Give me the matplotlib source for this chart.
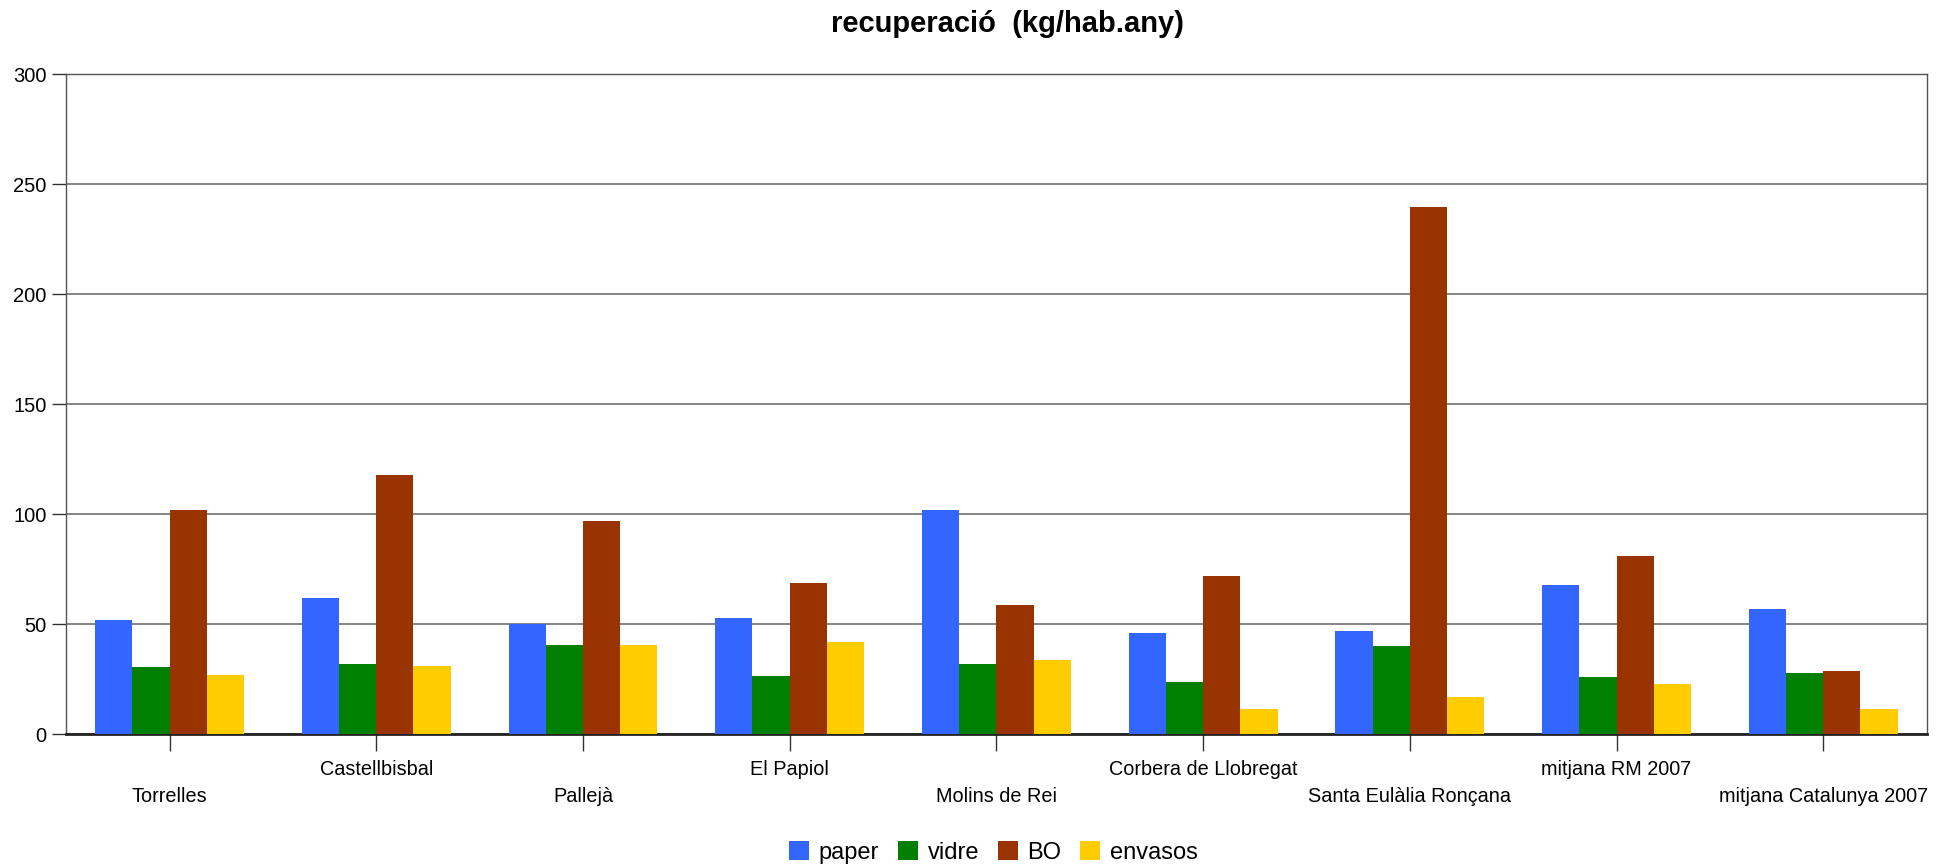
import numpy as np
import matplotlib.pyplot as plt

# --- dades ---
municipis = ["Torrelles", "Castellbisbal", "Pallejà", "El Papiol", "Molins de Rei",
             "Corbera de Llobregat", "Santa Eulàlia Ronçana", "mitjana RM 2007",
             "mitjana Catalunya 2007"]
paper = [52, 62, 50, 53, 102, 46, 47, 68, 57]
vidre = [30.5, 32, 40.5, 26.5, 32, 24, 40, 26, 28]
bo = [102, 118, 97, 69, 59, 72, 239.5, 81, 29]
envasos = [27, 31, 40.5, 42, 34, 11.5, 17, 23, 11.5]

series = [("paper", paper, "#3366FF"),
          ("vidre", vidre, "#007F00"),
          ("BO", bo, "#993300"),
          ("envasos", envasos, "#FFCC00")]

plt.rcParams['font.family'] = ['Liberation Sans', 'DejaVu Sans']

fig = plt.figure(figsize=(19.48, 8.65), dpi=100)
ax = fig.add_axes([0.034, 0.151, 0.955, 0.763])

x = np.arange(len(municipis))
w = 0.18
for i, (nom, vals, col) in enumerate(series):
    ax.bar(x + (i - 1.5) * w, vals, width=w, color=col, label=nom, zorder=3)

ax.set_xlim(-0.5, len(municipis) - 0.5)
ax.set_ylim(0, 300)
ax.set_yticks(range(0, 301, 50))
ax.yaxis.grid(True, color='#6f6f6f', linewidth=1.2, zorder=0)
ax.set_axisbelow(True)

ax.set_xticks(x)
ax.set_xticklabels([])
ax.tick_params(axis='x', length=12, width=1, color='#333333')
ax.tick_params(axis='y', length=10, width=1, color='#333333', labelsize=14.5, pad=4)

# etiquetes alternades en dues files
for i, nom in enumerate(municipis):
    yoff = -28.2 if i % 2 == 0 else -15.8
    ax.text(x[i], yoff, nom, ha='center', va='center', fontsize=14.3, clip_on=False)

for s in ['left', 'right', 'top']:
    ax.spines[s].set_color('#555555')
    ax.spines[s].set_linewidth(1)
ax.spines['bottom'].set_color('#222222')
ax.spines['bottom'].set_linewidth(2)

fig.suptitle("recuperació  (kg/hab.any)", fontsize=21, fontweight='bold',
             x=0.517, y=0.988)

fig.legend(loc='lower center', bbox_to_anchor=(0.51, -0.018), ncol=4, frameon=False,
           fontsize=17, handlelength=0.85, handleheight=0.85, handletextpad=0.4,
           columnspacing=0.8, borderpad=0.2)

fig.savefig("out.png", dpi=100)
